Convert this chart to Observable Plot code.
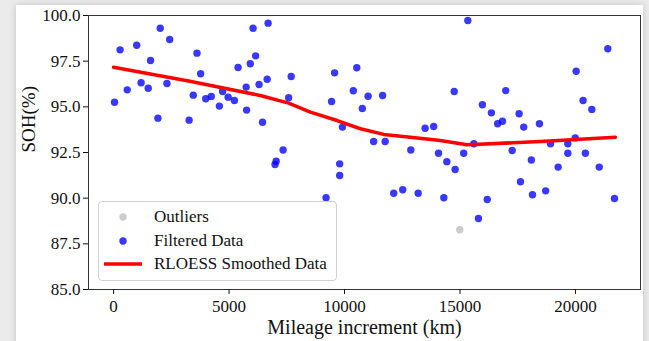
<!DOCTYPE html>
<html>
<head>
<meta charset="utf-8">
<script src="https://cdn.jsdelivr.net/npm/d3@7"></script>
<script src="https://cdn.jsdelivr.net/npm/@observablehq/plot@0.6"></script>
<style>
  html, body { margin: 0; padding: 0; background: #ebebeb; }
  #wrap { position: relative; width: 649px; height: 341px; overflow: hidden; background: #ebebeb; }
  #card { position: absolute; left: 16px; top: 5px; width: 627px; height: 350px; background: #fff;
          box-shadow: 0 0 7px rgba(0,0,0,0.18); }
  #chart { position: absolute; left: 0; top: 0; }
  #chart svg, #chart svg text { font-family: "Liberation Serif", "Times New Roman", serif !important; }
  #legend { position: absolute; left: 98px; top: 201px; width: 237px; height: 78px;
            border: 1px solid #d0d0d0; border-radius: 4px; background: rgba(255,255,255,0.85);
            font-family: "Liberation Serif", "Times New Roman", serif; font-size: 17px; color: #111; }
  .row { position: absolute; left: 0; height: 24px; width: 237px; }
  .row svg { position: absolute; left: 0; top: 0; }
  .row span { position: absolute; left: 55px; top: 1px; line-height: 22px; }
</style>
</head>
<body>
<div id="wrap">
  <div id="card"></div>
  <div id="chart"></div>
  <div id="legend">
    <div class="row" style="top:3px"><svg width="50" height="24"><circle cx="24" cy="12" r="3.7" fill="#808080" fill-opacity="0.4"/></svg><span>Outliers</span></div>
    <div class="row" style="top:27px"><svg width="50" height="24"><circle cx="24" cy="12" r="3.7" fill="blue" fill-opacity="0.78"/></svg><span>Filtered Data</span></div>
    <div class="row" style="top:50px"><svg width="50" height="24"><line x1="5" x2="43" y1="12" y2="12" stroke="red" stroke-width="3.5"/></svg><span>RLOESS Smoothed Data</span></div>
  </div>
</div>
<script>
// Filtered data
const mileage = [2020, 2430, 280, 1000, 1600, 3610, 3770, 1190, 590, 1500, 2310, 40, 1920, 3270, 3450, 3990, 4230, 4580, 4720, 4960,
  5230, 5390, 5740, 5760, 5920, 6150, 6040, 6300, 6450, 6650, 6690,
  7690, 7580, 7340, 7040, 6990, 9570, 10530, 10380, 9440, 11020, 11650, 10770, 9910, 11260, 11760, 12870, 13490, 13860, 14070, 14430,
  15340, 14750, 15160, 15600, 15970, 16360, 16630, 16840, 16980, 17260, 17560, 17760, 18090, 18440, 18920, 19670, 19670, 19990, 20430,
  20030, 20330, 20710, 21400,
  9790, 9790, 9200, 12130, 12520, 13190, 14300,
  14790, 16180, 15800, 17620, 18140, 18710, 19250, 21030, 21690];
const soh = [99.30, 98.69, 98.12, 98.37, 97.54, 97.94, 96.81, 96.32, 95.93, 96.02, 96.28, 95.25, 94.38, 94.27, 95.64, 95.44, 95.57, 95.04, 95.84, 95.53,
  95.35, 97.15, 96.08, 94.82, 97.36, 97.79, 99.30, 96.22, 94.16, 96.51, 99.58,
  96.66, 95.50, 92.64, 92.02, 91.84, 96.86, 97.14, 95.88, 95.29, 95.58, 95.62, 94.91, 93.89, 93.10, 93.10, 92.64, 93.83, 93.92, 92.46, 92.00,
  99.73, 95.84, 92.46, 92.98, 95.11, 94.67, 94.07, 94.21, 95.89, 92.61, 94.62, 93.89, 92.09, 94.07, 92.98, 92.46, 92.98, 93.30, 92.46,
  96.95, 95.35, 94.86, 98.18,
  91.88, 91.24, 90.02, 90.27, 90.46, 90.27, 90.02,
  91.57, 89.93, 88.89, 90.90, 90.19, 90.40, 91.70, 91.70, 89.98];
// Outliers
const outlierMileage = [14990];
const outlierSoh = [88.27];
// RLOESS smoothed curve
const smoothMileage = [0, 3300, 6350, 7580, 8520, 9680, 10690, 11700, 12850, 14150, 15300, 15600, 18480, 21730];
const smoothSoh = [97.17, 96.40, 95.62, 95.20, 94.71, 94.25, 93.80, 93.49, 93.34, 93.16, 92.92, 92.94, 93.10, 93.34];
// Ticks
const xTicks = [0, 5000, 10000, 15000, 20000];
const yTicks = [85, 87.5, 90, 92.5, 95, 97.5, 100];

const filtered = mileage.map((m, i) => ({m, s: soh[i]}));
const outliers = outlierMileage.map((m, i) => ({m, s: outlierSoh[i]}));
const smooth = smoothMileage.map((m, i) => ({m, s: smoothSoh[i]}));
const serif = "Liberation Serif";

const chart = Plot.plot({
  width: 649, height: 341,
  marginLeft: 88, marginRight: 9, marginTop: 15, marginBottom: 52,
  style: {background: "transparent", fontFamily: serif, fontSize: "17px", color: "#111"},
  x: {domain: [-1087, 22817]},
  y: {domain: [85, 100]},
  marks: [
    Plot.dot(outliers, {x: "m", y: "s", r: 3.7, fill: "#808080", fillOpacity: 0.4, stroke: null}),
    Plot.dot(filtered, {x: "m", y: "s", r: 3.7, fill: "blue", fillOpacity: 0.78, stroke: null}),
    Plot.line(smooth, {x: "m", y: "s", stroke: "red", strokeWidth: 3.5}),
    Plot.frame({stroke: "#333", strokeWidth: 1}),
    Plot.axisX({ticks: xTicks, tickFormat: d3.format("d"), tickSize: 5, tickPadding: 5, fontSize: 17, fontFamily: serif, label: null}),
    Plot.axisY({ticks: yTicks, tickFormat: d3.format(".1f"), tickSize: 5, tickPadding: 3, fontSize: 17, fontFamily: serif, label: null}),
    Plot.text(["Mileage increment (km)"], {frameAnchor: "bottom", dy: 38, fontSize: 20, fontFamily: serif, lineAnchor: "middle"}),
    Plot.text(["SOH(%)"], {frameAnchor: "left", dx: -60, rotate: -90, fontSize: 19, fontFamily: serif})
  ]
});
document.getElementById("chart").appendChild(chart);
</script>
</body>
</html>
